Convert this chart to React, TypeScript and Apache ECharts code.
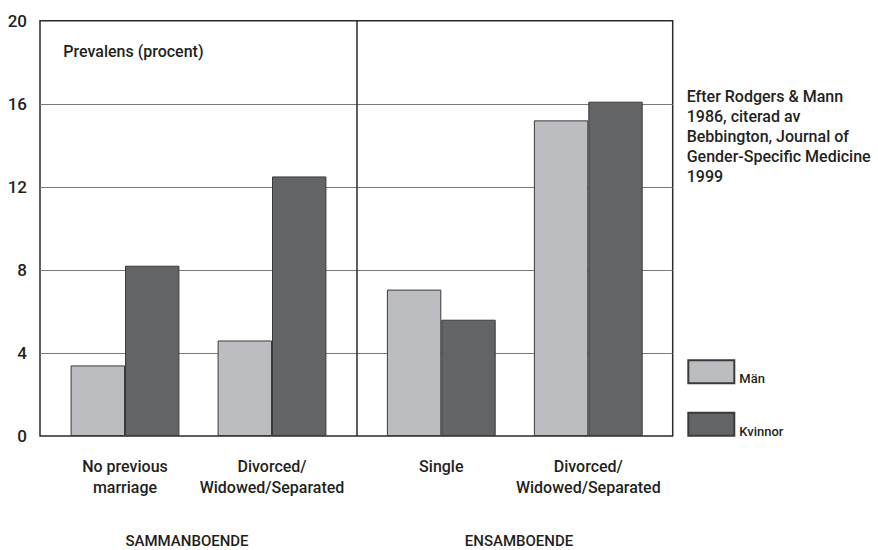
import React, { useEffect, useRef } from "react";
import * as echarts from "echarts";

const leftCategories = ["No previous\nmarriage", "Divorced/\nWidowed/Separated"];
const rightCategories = ["Single", "Divorced/\nWidowed/Separated"];
const menValues = [3.4, 4.6, 7.05, 15.2];
const womenValues = [8.2, 12.5, 5.6, 16.1];
const seriesNames = ["Män", "Kvinnor"];
const groupLabels = ["SAMMANBOENDE", "ENSAMBOENDE"];
const yTicks = { min: 0, max: 20, interval: 4 };
const sourceNote = "Efter Rodgers & Mann\n1986, citerad av\nBebbington, Journal of\nGender-Specific Medicine\n1999";
const yTitle = "Prevalens (procent)";

const FONT = "Roboto, 'Liberation Sans', sans-serif";
const TEXT = "#231f20";
const MEN = "#bcbdc1";
const WOMEN = "#636466";

export default function App() {
  const ref = useRef<HTMLDivElement>(null);
  useEffect(() => {
    if (!ref.current) return;
    const chart = echarts.init(ref.current, undefined, { renderer: "svg" });
    const top = 20.7;
    const height = 415.3;
    const barW = 54.4;
    const catAxis = (gridIndex: number, data: string[]) => ({
      type: "category",
      gridIndex,
      data,
      axisLine: { show: false },
      axisTick: { show: false },
      splitLine: { show: false },
      axisLabel: {
        fontFamily: FONT,
        fontSize: 16,
        fontWeight: 500,
        lineHeight: 21,
        color: TEXT,
        margin: 20,
        interval: 0,
      },
    });
    const hiddenY = (gridIndex: number) => ({
      type: "value",
      gridIndex,
      min: yTicks.min,
      max: yTicks.max,
      interval: yTicks.interval,
      show: false,
    });
    const barStyle = (color: string) => ({
      color,
      borderColor: "#3a3a3a",
      borderWidth: 1,
    });
    const legendFor = (name: string, topPos: number) => ({
      data: [name],
      left: 687.3,
      top: topPos,
      padding: 0,
      icon: "rect",
      itemWidth: 46,
      itemHeight: 23,
      formatter: (n: string) => "{a|" + n + "}",
      textStyle: {
        fontFamily: FONT,
        fontSize: 13,
        color: TEXT,
        rich: {
          a: {
            fontFamily: FONT,
            fontSize: 13,
            fontWeight: 500,
            color: TEXT,
            lineHeight: 14,
            padding: [14, 0, 0, 0],
          },
        },
      },
    });
    const groupText = (text: string, x: number) => ({
      type: "text",
      x,
      y: 541,
      style: {
        text,
        fontFamily: FONT,
        fontSize: 15,
        fontWeight: 500,
        fill: TEXT,
        align: "center",
        verticalAlign: "middle",
      },
    });
    const option: any = {
      animation: false,
      backgroundColor: "#ffffff",
      textStyle: { fontFamily: FONT },
      grid: [
        {
          left: 40,
          top,
          width: 632.7,
          height,
          show: true,
          borderColor: "#2a2a2a",
          borderWidth: 1.5,
          backgroundColor: "transparent",
        },
        { left: 51.5, top, width: 294, height },
        { left: 367.8, top, width: 294, height },
      ],
      xAxis: [
        {
          type: "value",
          gridIndex: 0,
          min: 0,
          max: 2,
          interval: 1,
          axisLabel: { show: false },
          axisTick: { show: false },
          axisLine: { show: false },
          splitLine: {
            show: true,
            showMinLine: false,
            showMaxLine: false,
            lineStyle: { color: "#2a2a2a", width: 1.5 },
          },
        },
        catAxis(1, leftCategories),
        catAxis(2, rightCategories),
      ],
      yAxis: [
        {
          type: "value",
          gridIndex: 0,
          min: yTicks.min,
          max: yTicks.max,
          interval: yTicks.interval,
          axisLine: { show: false },
          axisTick: { show: false },
          axisLabel: {
            fontFamily: FONT,
            fontSize: 17,
            fontWeight: 500,
            color: TEXT,
            margin: 13,
          },
          splitLine: {
            show: true,
            showMinLine: false,
            showMaxLine: false,
            lineStyle: { color: "#7a7a7a", width: 1.2 },
          },
        },
        hiddenY(1),
        hiddenY(2),
      ],
      legend: [legendFor(seriesNames[0], 358.2), legendFor(seriesNames[1], 410.8)],
      series: [
        {
          name: seriesNames[0],
          type: "bar",
          xAxisIndex: 1,
          yAxisIndex: 1,
          data: menValues.slice(0, 2),
          barWidth: barW,
          barGap: "0%",
          itemStyle: barStyle(MEN),
        },
        {
          name: seriesNames[1],
          type: "bar",
          xAxisIndex: 1,
          yAxisIndex: 1,
          data: womenValues.slice(0, 2),
          barWidth: barW,
          barGap: "0%",
          itemStyle: barStyle(WOMEN),
        },
        {
          name: seriesNames[0],
          type: "bar",
          xAxisIndex: 2,
          yAxisIndex: 2,
          data: menValues.slice(2, 4),
          barWidth: barW,
          barGap: "0%",
          itemStyle: barStyle(MEN),
        },
        {
          name: seriesNames[1],
          type: "bar",
          xAxisIndex: 2,
          yAxisIndex: 2,
          data: womenValues.slice(2, 4),
          barWidth: barW,
          barGap: "0%",
          itemStyle: barStyle(WOMEN),
        },
      ],
      graphic: [
        {
          type: "text",
          left: 63.3,
          top: 43,
          style: {
            text: yTitle,
            fontFamily: FONT,
            fontSize: 16,
            fontWeight: 500,
            fill: TEXT,
          },
        },
        {
          type: "text",
          x: 686.7,
          y: 86.7,
          style: {
            text: sourceNote,
            fontFamily: FONT,
            fontSize: 16,
            fontWeight: 500,
            lineHeight: 20,
            fill: TEXT,
            verticalAlign: "top",
            align: "left",
          },
        },
        groupText(groupLabels[0], 187),
        groupText(groupLabels[1], 519),
      ],
    };
    chart.setOption(option);
    return () => chart.dispose();
  }, []);
  return (
    <div
      ref={ref}
      style={{ position: "fixed", left: 0, top: 0, width: 878, height: 550 }}
    />
  );
}
